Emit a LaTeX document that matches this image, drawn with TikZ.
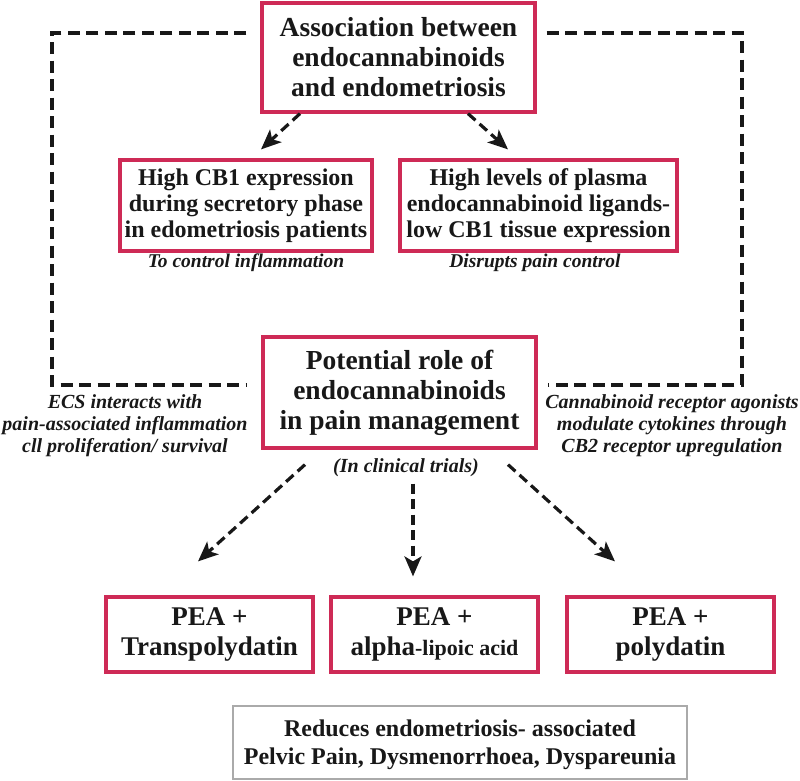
\documentclass[tikz,border=0pt]{standalone}
\usepackage{fontspec}
\setmainfont{Liberation Serif}
\usetikzlibrary{arrows.meta}
\definecolor{boxred}{RGB}{206,42,86}
\definecolor{ink}{RGB}{24,24,24}
\definecolor{greyedge}{RGB}{170,170,170}
\begin{document}
\begin{tikzpicture}[x=1pt,y=-1pt,
  redbox/.style={draw=boxred, line width=3.2pt, inner sep=0pt, align=center, text=ink},
  bigtxt/.style={font=\bfseries\fontsize{27.5}{30}\selectfont},
  medtxt/.style={font=\bfseries\fontsize{24}{26}\selectfont},
  note/.style={align=center, text=ink, inner sep=0pt, font=\bfseries\itshape\fontsize{20}{22}\selectfont},
  conn/.style={draw=ink, line width=3.2pt, dash pattern=on 12pt off 6.5pt},
  arr/.style={draw=ink, line width=3.2pt, dash pattern=on 10pt off 5.5pt, -{Stealth[length=20pt,width=17pt,inset=5pt]}}
]
\useasboundingbox (0,0) rectangle (800,780);

% boxes
\node[redbox, bigtxt, minimum width=273pt, minimum height=109pt] (top) at (398.5,57.5)
  {Association between\\endocannabinoids\\and endometriosis};
\node[redbox, medtxt, minimum width=252pt, minimum height=91pt] (A) at (246,205.5)
  {High CB1 expression\\during secretory phase\\in edometriosis patients};
\node[redbox, medtxt, minimum width=277pt, minimum height=91pt] (B) at (538.5,205.5)
  {High levels of plasma\\endocannabinoid ligands-\\low CB1 tissue expression};
\node[redbox, bigtxt, minimum width=273pt, minimum height=111pt] (mid) at (399.5,392.5)
  {Potential role of\\endocannabinoids\\in pain management};
\node[redbox, font=\bfseries\fontsize{27}{30}\selectfont, minimum width=207pt, minimum height=75pt] (PA) at (209.5,634.5)
  {PEA +\\Transpolydatin};
\node[redbox, font=\bfseries\fontsize{27}{30}\selectfont, minimum width=207pt, minimum height=75pt] (PB) at (434.5,634.5)
  {PEA +\\alpha{\fontsize{22}{30}\selectfont-lipoic acid}};
\node[redbox, font=\bfseries\fontsize{27}{30}\selectfont, minimum width=207pt, minimum height=75pt] (PC) at (670.5,634.5)
  {PEA +\\polydatin};
\node[draw=greyedge, line width=1.4pt, inner sep=0pt, align=center, text=ink,
  font=\bfseries\fontsize{24}{28}\selectfont, minimum width=454pt, minimum height=73pt] (G) at (460,742.5)
  {\rule{0pt}{21pt}Reduces endometriosis- associated\\Pelvic Pain, Dysmenorrhoea, Dyspareunia};

% notes
\node[note, font=\bfseries\itshape\fontsize{19.5}{22}\selectfont] (nA) at (246,263) {To control inflammation};
\node[note, font=\bfseries\itshape\fontsize{19.5}{22}\selectfont] (nB) at (535,263) {Disrupts pain control};
\node[note] (nL) at (125,425.3) {ECS interacts with\\pain-associated inflammation\\cll proliferation/ survival};
\node[note] (nR) at (672,425.3) {Cannabinoid receptor agonists\\modulate cytokines through\\CB2 receptor upregulation};
\node[note] (nC) at (406,468) {(In clinical trials)};

% side dashed connectors
\coordinate (tl) at (52,33);
\coordinate (bl) at (52,385);
\coordinate (tr) at (742,33);
\coordinate (br) at (742,385);
\draw[conn, shorten <=14pt, shorten >=15pt] (top.west |- tl) -- (tl) -- (bl) -- (mid.west |- bl);
\draw[conn, shorten <=10pt, shorten >=10pt] (top.east |- tr) -- (tr) -- (br) -- (mid.east |- br);

% arrows
\draw[arr] ([xshift=-98.5pt]top.south) -- ([xshift=15pt,yshift=9pt]A.north);
\draw[arr] ([xshift=69.5pt]top.south) -- ([xshift=-30.5pt,yshift=9pt]B.north);
\draw[arr] ([xshift=-94.5pt,yshift=-15pt]mid.south) -- ([xshift=-11.5pt,yshift=34pt]PA.north);
\draw[arr] ([xshift=13.5pt,yshift=-34pt]mid.south) -- ([xshift=-21.5pt,yshift=19pt]PB.north);
\draw[arr] ([xshift=108.5pt,yshift=-15pt]mid.south) -- ([xshift=-55.5pt,yshift=34pt]PC.north);
\end{tikzpicture}
\end{document}
